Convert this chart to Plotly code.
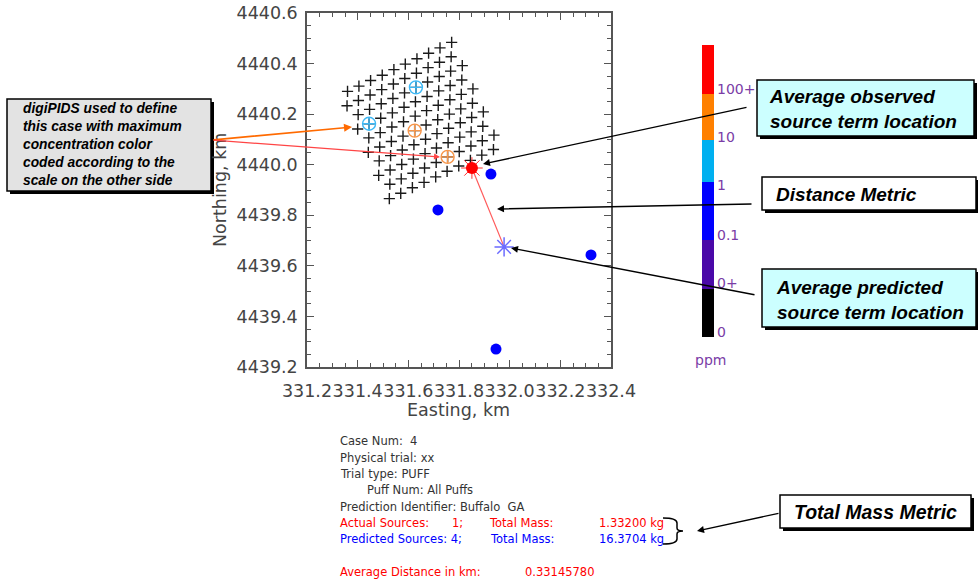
import plotly.graph_objects as go

W, H = 978, 579

# ---------------- data ----------------
# digiPIDS sampler grid (Easting / Northing, km), one list per sampler row
sampler_rows_x = [
    [331.771, 331.725, 331.680, 331.634, 331.588, 331.543, 331.497, 331.451, 331.405, 331.360],
    [331.769, 331.723, 331.678, 331.632, 331.586, 331.541, 331.495, 331.449, 331.403, 331.358],
    [331.813, 331.767, 331.722, 331.676, 331.630, 331.585, 331.539, 331.493, 331.447, 331.402],
    [331.811, 331.765, 331.720, 331.674, 331.628, 331.583, 331.537, 331.491, 331.445, 331.400],
    [331.855, 331.809, 331.764, 331.718, 331.672, 331.627, 331.581, 331.535, 331.489, 331.444],
    [331.853, 331.807, 331.762, 331.716, 331.670, 331.625, 331.579, 331.533, 331.487, 331.442],
    [331.896, 331.850, 331.805, 331.759, 331.713, 331.668, 331.622, 331.576, 331.530, 331.485],
    [331.894, 331.848, 331.803, 331.757, 331.711, 331.666, 331.620, 331.574, 331.528, 331.483],
    [331.938, 331.892, 331.847, 331.801, 331.755, 331.710, 331.664, 331.618, 331.572, 331.527],
    [331.936, 331.890, 331.845, 331.799, 331.753, 331.708, 331.662, 331.616, 331.570, 331.525],
]
sampler_rows_y = [
    [4440.484, 4440.462, 4440.441, 4440.419, 4440.398, 4440.376, 4440.354, 4440.333, 4440.311, 4440.290],
    [4440.427, 4440.405, 4440.384, 4440.362, 4440.341, 4440.319, 4440.297, 4440.276, 4440.254, 4440.233],
    [4440.392, 4440.370, 4440.349, 4440.327, 4440.306, 4440.284, 4440.262, 4440.241, 4440.219, 4440.198],
    [4440.335, 4440.313, 4440.292, 4440.270, 4440.249, 4440.227, 4440.205, 4440.184, 4440.162, 4440.141],
    [4440.300, 4440.278, 4440.257, 4440.235, 4440.214, 4440.192, 4440.170, 4440.149, 4440.127, 4440.106],
    [4440.243, 4440.221, 4440.200, 4440.178, 4440.157, 4440.135, 4440.113, 4440.092, 4440.070, 4440.049],
    [4440.209, 4440.187, 4440.166, 4440.144, 4440.123, 4440.101, 4440.079, 4440.058, 4440.036, 4440.015],
    [4440.152, 4440.130, 4440.109, 4440.087, 4440.066, 4440.044, 4440.022, 4440.001, 4439.979, 4439.958],
    [4440.117, 4440.095, 4440.074, 4440.052, 4440.031, 4440.009, 4439.987, 4439.966, 4439.944, 4439.923],
    [4440.060, 4440.038, 4440.017, 4439.995, 4439.974, 4439.952, 4439.930, 4439.909, 4439.887, 4439.866],
]

# samplers with maximum concentration colour coded
hit_x = [331.630, 331.445, 331.625, 331.755]
hit_y = [4440.306, 4440.162, 4440.135, 4440.031]
hit_class = ["1", "1", "10", "10"]

# actual (observed) source
actual_x = [331.851]
actual_y = [4439.987]

# predicted sources
pred_x = [331.926, 331.717, 332.321, 331.946]
pred_y = [4439.963, 4439.821, 4439.643, 4439.271]

# average predicted source location
pred_avg_x = [331.978]
pred_avg_y = [4439.675]

# concentration scale (ppm)
scale_labels = ["0", "0+", "0.1", "1", "10", "100+"]
scale_colors = ["#000000", "#4A08A8", "#0000FF", "#00B0F0", "#FF8000", "#FF0000"]
scale_bounds = [0, 48, 97, 155, 197, 243, 292]
scale_label_pos = [5, 54, 102, 152, 200, 248]

# case summary
case_num = 4
physical_trial = "xx"
trial_type = "PUFF"
puff_num = "All Puffs"
prediction_id = "Buffalo  GA"
actual_sources = 1
predicted_sources = 4
actual_mass_kg = 1.33200
predicted_mass_kg = 16.3704
avg_distance_km = 0.33145780

x_ticks = [331.2, 331.4, 331.6, 331.8, 332.0, 332.2, 332.4]
y_ticks = [4439.2, 4439.4, 4439.6, 4439.8, 4440.0, 4440.2, 4440.4, 4440.6]

# ---------------- helpers ----------------
def px(x):
    return x / W

def py(y):
    return 1 - y / H

AXC = "#555555"
TXT = "#444444"
FONT = "DejaVu Sans"
BOXFONT = "Liberation Sans, Arial, sans-serif"
PURPLE = "#7A3CA6"

fig = go.Figure()

flat_x = [v for row in sampler_rows_x for v in row]
flat_y = [v for row in sampler_rows_y for v in row]
fig.add_trace(go.Scatter(
    x=flat_x, y=flat_y, mode="markers",
    marker=dict(symbol="cross-thin", size=8, line=dict(width=1.4, color="#1a1a1a")),
    hoverinfo="skip", showlegend=False))

class_color = {scale_labels[i]: scale_colors[i] for i in range(len(scale_labels))}
class_color["1"] = "#3DB8F5"
class_color["10"] = "#F7964A"
fig.add_trace(go.Scatter(
    x=hit_x, y=hit_y, mode="markers",
    marker=dict(symbol="circle-cross-open", size=13,
                color=[class_color[c] for c in hit_class],
                line=dict(width=1.4)),
    hoverinfo="skip", showlegend=False))

# distance line
fig.add_trace(go.Scatter(
    x=[actual_x[0], pred_avg_x[0]], y=[actual_y[0], pred_avg_y[0]],
    mode="lines", line=dict(color="#FF5A5A", width=1.2),
    hoverinfo="skip", showlegend=False))

fig.add_trace(go.Scatter(
    x=pred_x, y=pred_y, mode="markers",
    marker=dict(symbol="circle", size=11, color="#0000FF"),
    hoverinfo="skip", showlegend=False))

fig.add_trace(go.Scatter(
    x=actual_x, y=actual_y, mode="markers",
    marker=dict(symbol="asterisk-open", size=18, color="#FF3030", line=dict(width=1)),
    hoverinfo="skip", showlegend=False))
fig.add_trace(go.Scatter(
    x=actual_x, y=actual_y, mode="markers",
    marker=dict(symbol="circle", size=12, color="#FF0000"),
    hoverinfo="skip", showlegend=False))

fig.add_trace(go.Scatter(
    x=pred_avg_x, y=pred_avg_y, mode="markers",
    marker=dict(symbol="asterisk-open", size=16, color="#6B6BFF", line=dict(width=1.5)),
    hoverinfo="skip", showlegend=False))

# colour scale bar
fig.add_trace(go.Bar(
    x=[0] * len(scale_colors),
    y=[scale_bounds[i + 1] - scale_bounds[i] for i in range(len(scale_colors))],
    base=scale_bounds[:-1], width=1,
    marker=dict(color=scale_colors, line=dict(width=0)),
    xaxis="x2", yaxis="y2", hoverinfo="skip", showlegend=False))

axis_common = dict(
    showgrid=False, zeroline=False, showline=True, linecolor=AXC, linewidth=1.5,
    mirror="allticks", ticks="inside", ticklen=7, tickwidth=1.2, tickcolor=AXC,
    tickfont=dict(family=FONT, size=17.5, color=TXT), tickformat=".1f",
    automargin=False,
)

fig.update_layout(
    width=W, height=H, autosize=False,
    margin=dict(l=0, r=0, t=0, b=0, pad=0, autoexpand=False),
    paper_bgcolor="white", plot_bgcolor="white",
    showlegend=False,
    xaxis=dict(domain=[px(307), px(611)], range=[331.2, 332.4],
               tickvals=x_ticks, tickangle=0, ticklabelstandoff=7,
               minor=dict(dtick=0.05, tick0=331.2, ticks="inside", ticklen=4,
                          tickwidth=1, tickcolor=AXC, showgrid=False),
               anchor="y", **axis_common),
    yaxis=dict(domain=[py(367), py(13)], range=[4439.2, 4440.6],
               tickvals=y_ticks, ticklabelstandoff=4,
               minor=dict(dtick=0.05, tick0=4439.2, ticks="inside", ticklen=4,
                          tickwidth=1, tickcolor=AXC, showgrid=False),
               anchor="x", **axis_common),
    xaxis2=dict(domain=[px(702), px(714)], range=[-0.5, 0.5], visible=False,
                anchor="y2", fixedrange=True, automargin=False),
    yaxis2=dict(domain=[py(337), py(45)], range=[0, 292], anchor="x2", side="right",
                tickvals=scale_label_pos, ticktext=scale_labels, ticks="",
                showline=False, showgrid=False, zeroline=False, ticklabelstandoff=2,
                automargin=False,
                tickfont=dict(family=FONT, size=14, color=PURPLE)),
)

annotations = []
shapes = []

# axis titles
annotations.append(dict(x=px(220), y=py(190), xref="paper", yref="paper",
                        xanchor="center", yanchor="middle",
                        text="Northing, km", textangle=-90, showarrow=False,
                        font=dict(family=FONT, size=17.5, color=TXT)))
annotations.append(dict(x=px(458), y=py(410), xref="paper", yref="paper",
                        xanchor="center", yanchor="middle",
                        text="Easting, km", showarrow=False,
                        font=dict(family=FONT, size=17.5, color=TXT)))
annotations.append(dict(x=px(710), y=py(360), xref="paper", yref="paper",
                        xanchor="center", yanchor="middle",
                        text="ppm", showarrow=False,
                        font=dict(family=FONT, size=14, color=PURPLE)))

# callout boxes
def box(x0, y0, x1, y1, fill):
    shapes.append(dict(type="rect", xref="paper", yref="paper",
                       x0=px(x0 + 3), x1=px(x1 + 3), y0=py(y1 + 3), y1=py(y0 + 3),
                       fillcolor="#000000", line=dict(width=0)))
    shapes.append(dict(type="rect", xref="paper", yref="paper",
                       x0=px(x0), x1=px(x1), y0=py(y1), y1=py(y0),
                       fillcolor=fill, line=dict(color="#000000", width=1.5)))

box(7, 99, 211, 191, "#E3E3E3")
box(757, 80, 974, 136, "#CCFFFF")
box(762, 177, 976, 210, "#FFFFFF")
box(762, 269, 976, 327, "#CCFFFF")
box(780, 495, 971, 528, "#FFFFFF")

def label(x, y, text, size, anchor="top"):
    annotations.append(dict(x=px(x), y=py(y), xref="paper", yref="paper",
                            xanchor="left", yanchor=anchor, align="left",
                            text="<b><i>" + text + "</i></b>", showarrow=False,
                            font=dict(family=BOXFONT, size=size, color="#000000")))

grey_lines = ["digiPIDS used to define", "this case with maximum", "concentration color",
              "coded according to the", "scale on the other side"]
label(21, 144, "<br>".join(grey_lines), 13.8, "middle")
label(767, 84, "Average observed<br>source term location", 19)
label(774, 194, "Distance Metric", 19, "middle")
label(774, 275, "Average predicted<br>source term location", 19)
label(792, 512, "Total Mass Metric", 19.5, "middle")

# arrows (tail pixel -> head pixel)
def arrow(tx, ty, hx, hy, color, width=1.5, size=1.0):
    annotations.append(dict(x=px(hx), y=py(hy), ax=tx - hx, ay=ty - hy,
                            xref="paper", yref="paper", axref="pixel", ayref="pixel",
                            text="", showarrow=True, arrowhead=2, arrowsize=size,
                            arrowwidth=width, arrowcolor=color,
                            standoff=0, startstandoff=0))

arrow(212, 140, 352, 127, "#FF6A00", 1.6)
arrow(212, 140, 440, 157, "#FF4545", 1.2)
arrow(748, 107, 483, 164, "#000000", 1.4)
arrow(753, 204, 497, 209, "#000000", 1.4)
arrow(756, 295, 511, 248, "#000000", 1.4)
arrow(780, 513, 697, 531, "#000000", 1.4)

# brace
pts = [(663, 518), (677, 518), (677, 523), (677, 528), (677, 531), (683, 531),
       (677, 531), (677, 534), (677, 539), (677, 544), (663, 544)]
p = [(px(a), py(b)) for a, b in pts]
path = ("M {0[0]},{0[1]} Q {1[0]},{1[1]} {2[0]},{2[1]} L {3[0]},{3[1]} "
        "Q {4[0]},{4[1]} {5[0]},{5[1]} Q {6[0]},{6[1]} {7[0]},{7[1]} "
        "L {8[0]},{8[1]} Q {9[0]},{9[1]} {10[0]},{10[1]}").format(*p)
shapes.append(dict(type="path", xref="paper", yref="paper", path=path,
                   line=dict(color="#000000", width=1.5)))

# case summary text
def info(x, y, text, color="#333333"):
    annotations.append(dict(x=px(x), y=py(y), xref="paper", yref="paper",
                            xanchor="left", yanchor="middle", text=text, showarrow=False,
                            font=dict(family=FONT, size=11.5, color=color)))

RED, BLUE = "#FF0000", "#0000FF"
info(338, 441, "Case Num:&nbsp;&nbsp;%d" % case_num)
info(338, 458, "Physical trial: %s" % physical_trial)
info(338, 474, "Trial type: %s" % trial_type)
info(365, 490, "Puff Num: %s" % puff_num)
info(338, 507, "Prediction Identifier: %s" % prediction_id.replace("  ", "&nbsp;&nbsp;"))
info(338, 523, "Actual Sources:", RED)
info(450, 523, "%d;" % actual_sources, RED)
info(487, 523, "Total Mass:", RED)
info(597, 523, "%.5f kg" % actual_mass_kg, RED)
info(338, 539, "Predicted Sources: %d;" % predicted_sources, BLUE)
info(488, 539, "Total Mass:", BLUE)
info(597, 539, "%.4f kg" % predicted_mass_kg, BLUE)
info(338, 572, "Average Distance in km:", RED)
info(523, 572, "%.8f" % avg_distance_km, RED)

fig.update_layout(annotations=annotations, shapes=shapes)
fig.write_html("out.html", config={"displayModeBar": False},
               post_script="document.body.style.margin='0';document.body.style.padding='0';")
